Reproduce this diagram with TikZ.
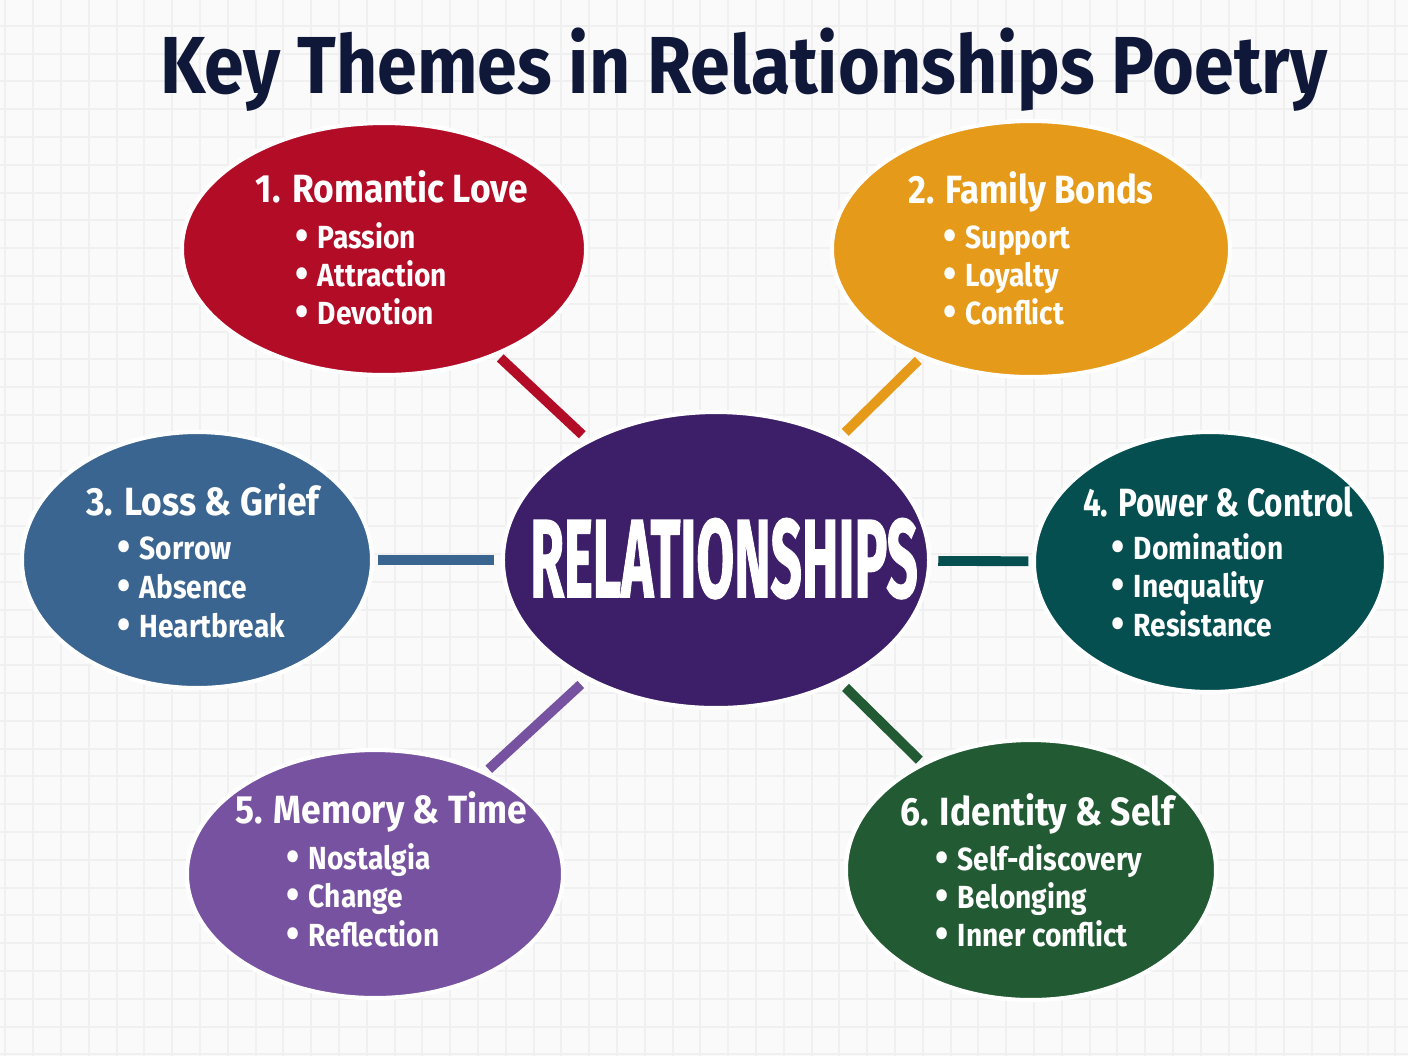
\documentclass[tikz,border=0pt]{standalone}
\usepackage{fontspec}
\setmainfont{Fira Sans}
\newfontfamily\relfont{Fira Sans}[FakeBold=1.6]
\usepackage{tikz}
\usetikzlibrary{shapes.geometric}
\definecolor{paperx}{HTML}{FAFAFA}
\definecolor{gridx}{HTML}{F0F0F0}
\definecolor{navyx}{HTML}{0F1838}
\definecolor{relx}{HTML}{3C1E69}
\definecolor{romx}{HTML}{B20C27}
\definecolor{famx}{HTML}{E69A1A}
\definecolor{lossx}{HTML}{3A6591}
\definecolor{powx}{HTML}{064F50}
\definecolor{memx}{HTML}{7652A0}
\definecolor{idx}{HTML}{225B33}
\newcommand{\squeeze}[2][0.9]{\scalebox{#1}[1]{#2}}
\newcommand{\dotitem}[1]{\squeeze[0.88]{\raisebox{-0.6pt}{\scalebox{1.35}{\textbullet}}\hspace{0.32em}#1}}

\begin{document}
\begin{tikzpicture}[
            x=0.01cm, y=-0.01cm,
            theme/.style={ellipse, draw=white, line width=1.2pt, inner sep=0pt},
            head/.style={anchor=base, inner sep=0pt, text=white, font=\bfseries\fontsize{11.2}{13}\selectfont},
            item/.style={anchor=base west, inner sep=0pt, text=white, font=\bfseries\fontsize{9.1}{11}\selectfont},
            link/.style={line width=2.8pt, shorten <=1pt, shorten >=2pt}
        ]
            \useasboundingbox (0,0) rectangle (1408,1056);
            \fill [paperx] (0,0) rectangle (1408,1056);
            \foreach \x in {0,...,50} {
                \draw [gridx,line width=0.6pt] ({5.4+27.8*\x},0) -- ({5.4+27.8*\x},1056);
            }
            \foreach \y in {0,...,37} {
                \draw [gridx,line width=0.6pt] (0,{25.8+27.8*\y}) -- (1408,{25.8+27.8*\y});
            }

            % title
            \node [anchor=base,inner sep=0pt,text=navyx,font=\bfseries\fontsize{23}{28}\selectfont] (title) at (744,93) {\squeeze[0.886]{Key Themes in Relationships Poetry}};

            % ellipses
            \node [theme,fill=relx,minimum width=4.26cm,minimum height=2.96cm] (rel) at (716,560) {};
            \node [theme,fill=romx,minimum width=4.04cm,minimum height=2.52cm] (rom) at (384,249) {};
            \node [theme,fill=famx,minimum width=3.98cm,minimum height=2.56cm] (fam) at (1031,249) {};
            \node [theme,fill=lossx,minimum width=3.50cm,minimum height=2.56cm] (loss) at (197,560) {};
            \node [theme,fill=powx,minimum width=3.52cm,minimum height=2.60cm] (pow) at (1210,562) {};
            \node [theme,fill=memx,minimum width=3.76cm,minimum height=2.48cm] (mem) at (375,874) {};
            \node [theme,fill=idx,minimum width=3.70cm,minimum height=2.60cm] (ide) at (1031,870) {};

            \node [anchor=base,inner sep=0pt,text=white,font=\relfont\bfseries\fontsize{31.5}{34}\selectfont] (rel-t) at (724,597) {\squeeze[0.495]{RELATIONSHIPS}};

            % connectors
            \draw [link,romx] (rom) -- (rel);
            \draw [link,famx] (fam) -- (rel);
            \draw [link,lossx] (loss) -- (rel);
            \draw [link,powx] (pow) -- (rel);
            \draw [link,memx] (mem) -- (rel);
            \draw [link,idx] (ide) -- (rel);

            % headings
            \node [head] (rom-h) at (392,202) {\squeeze{1. Romantic Love}};
            \node [head] (fam-h) at (1031,203) {\squeeze[0.88]{2. Family Bonds}};
            \node [head] (loss-h) at (203,515) {\squeeze{3. Loss \& Grief}};
            \node [head] (pow-h) at (1218,516) {\squeeze[0.8]{4. Power \& Control}};
            \node [head] (mem-h) at (381,823) {\squeeze{5. Memory \& Time}};
            \node [head] (ide-h) at (1037,825) {\squeeze{6. Identity \& Self}};

            % bullet items
            \foreach \t [count=\i] in {Passion,Attraction,Devotion}
                \node [item] (rom-\i) at (295,{210+38*\i}) {\dotitem{\t}};
            \foreach \t [count=\i] in {Support,Loyalty,Conflict}
                \node [item] (fam-\i) at (943,{210+38*\i}) {\dotitem{\t}};
            \foreach \t [count=\i] in {Sorrow,Absence,Heartbreak}
                \node [item] (loss-\i) at (117,{520+39*\i}) {\dotitem{\t}};
            \foreach \t [count=\i] in {Domination,Inequality,Resistance}
                \node [item] (pow-\i) at (1111,{520.5+38.5*\i}) {\dotitem{\t}};
            \foreach \t [count=\i] in {Nostalgia,Change,Reflection}
                \node [item] (mem-\i) at (286,{830.5+38.5*\i}) {\dotitem{\t}};
            \foreach \t [count=\i] in {Self-discovery,Belonging,Inner conflict}
                \node [item] (ide-\i) at (935,{832+38*\i}) {\dotitem{\t}};
        \end{tikzpicture}
\end{document}
